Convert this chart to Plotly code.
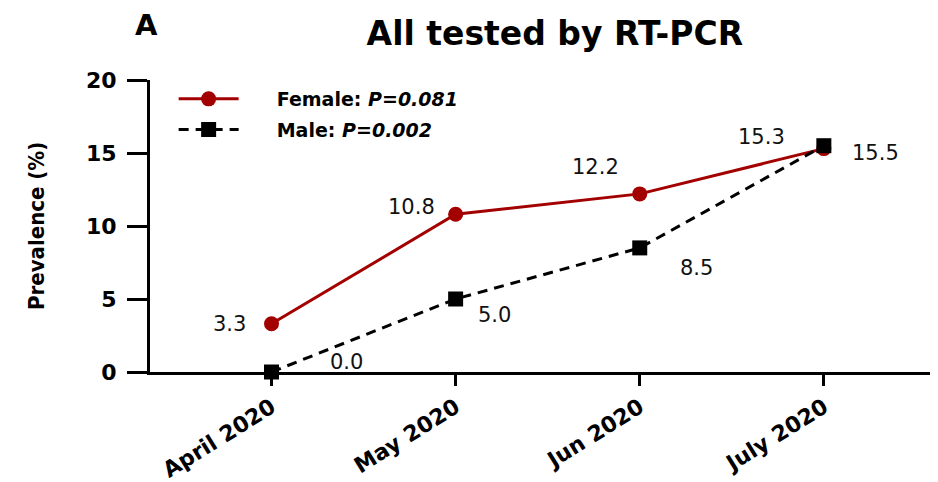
import plotly.graph_objects as go

months = ["April 2020", "May 2020", "Jun 2020", "July 2020"]
female = [3.3, 10.8, 12.2, 15.3]
male = [0.0, 5.0, 8.5, 15.5]
y_ticks = [0, 5, 10, 15, 20]

RED = "#A30000"
FAM = "DejaVu Sans, Arial, sans-serif"
NB = "\u00a0" * 5
fig = go.Figure()

fig.add_trace(go.Scatter(
    x=months, y=female, mode="lines+markers",
    name=NB + "Female: <i>P=0.081</i>", legendgroup="f",
    line=dict(color=RED, width=3),
    marker=dict(symbol="circle", size=15, color=RED),
    cliponaxis=False,
))
fig.add_trace(go.Scatter(
    x=months, y=male, mode="lines+markers",
    name=NB + "Male: <i>P=0.002</i>", legendgroup="m",
    line=dict(color="black", width=3, dash="10px,7px"),
    marker=dict(symbol="square", size=15, color="black"),
    cliponaxis=False,
))

# value label offsets (pixels)
f_off = [(-42, 0), (-44, 7), (-44, 27), (-62, 12)]
m_off = [(75, 10), (39, -16), (57, -20), (52, -7)]
lab_font = dict(family=FAM, size=21, color="#111")
anns = []
for i, m in enumerate(months):
    anns.append(dict(x=m, y=female[i], xref="x", yref="y", text=f"{female[i]:.1f}",
                     showarrow=False, xshift=f_off[i][0], yshift=f_off[i][1], font=lab_font))
    anns.append(dict(x=m, y=male[i], xref="x", yref="y", text=f"{male[i]:.1f}",
                     showarrow=False, xshift=m_off[i][0], yshift=m_off[i][1], font=lab_font))

anns.append(dict(x=0, y=1, xref="paper", yref="paper", text="A", showarrow=False,
                 xshift=-4, yshift=55, xanchor="center", yanchor="middle",
                 font=dict(family=FAM, size=29, color="black", weight="bold")))
anns.append(dict(x=0, y=0.5, xref="paper", yref="paper", text="Prevalence (%)",
                 showarrow=False, textangle=-90, xshift=-114, xanchor="center", yanchor="middle",
                 font=dict(family="Liberation Sans Narrow, DejaVu Sans Condensed, DejaVu Sans, sans-serif",
                           size=22, color="black", weight="bold")))

fig.update_layout(
    width=930, height=474,
    margin=dict(l=142, r=0, t=72, b=110, autoexpand=False),
    paper_bgcolor="white", plot_bgcolor="white",
    title=dict(text="All tested by RT-PCR", x=0.588, xanchor="center", xref="container",
               y=0.947, yanchor="middle", yref="container",
               font=dict(family=FAM, size=33, color="black", weight="bold")),
    showlegend=True,
    legend=dict(x=0.03, y=1.0, xanchor="left", yanchor="top",
                font=dict(family=FAM, size=19, color="black", weight="bold"),
                bgcolor="rgba(0,0,0,0)", itemwidth=60, tracegroupgap=3),
    annotations=anns,
    xaxis=dict(
        type="category", range=[-0.66, 3.62], automargin=False,
        showline=True, linecolor="black", linewidth=3,
        ticks="outside", ticklen=11, tickwidth=3, tickcolor="black",
        tickangle=-32, showgrid=False, zeroline=False,
        tickfont=dict(family=FAM, size=22, color="black", weight="bold"),
    ),
    yaxis=dict(
        range=[0, 20], tickvals=y_ticks, automargin=False,
        showline=True, linecolor="black", linewidth=3,
        ticks="outside", ticklen=20, tickwidth=3, tickcolor="black",
        showgrid=False, zeroline=False, ticklabelstandoff=6,
        tickfont=dict(family=FAM, size=22, color="black", weight="bold"),
    ),
)

fig.write_html("out.html")
